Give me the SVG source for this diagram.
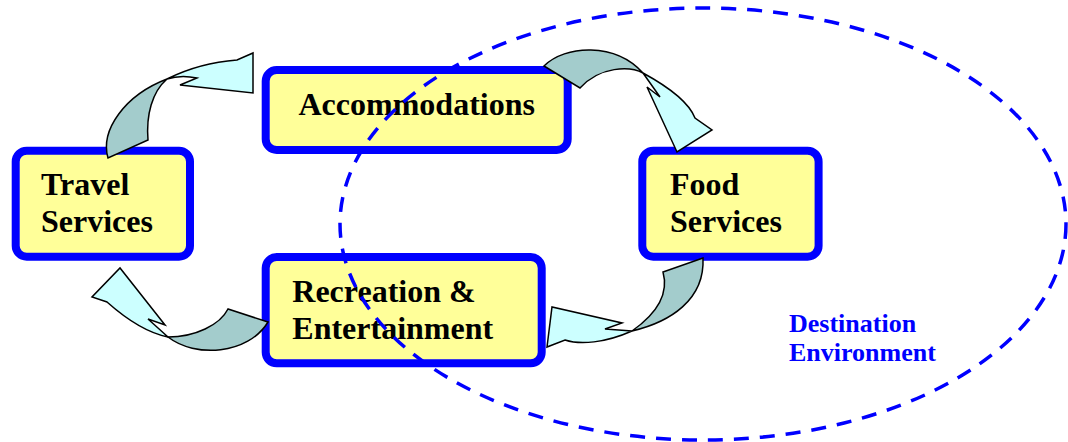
<svg xmlns="http://www.w3.org/2000/svg" width="1068" height="442" viewBox="0 0 1068 442">
  <style>
    .box { fill: #FFFF99; stroke: #0000FF; stroke-width: 8; }
    .label { font-family: "Liberation Serif", "Times New Roman", serif; font-weight: bold; font-size: 32px; fill: #000000; }
    .env { font-family: "Liberation Serif", "Times New Roman", serif; font-weight: bold; font-size: 26px; fill: #0000FF; }
    .back { fill: #A3CCCC; stroke: #000000; stroke-width: 1.5; stroke-linejoin: miter; }
    .front { fill: #CCFFFF; stroke: #000000; stroke-width: 1.5; stroke-linejoin: miter; }
    .region { fill: none; stroke: #0000FF; stroke-width: 3.5; stroke-dasharray: 15 11; }
  </style>
  <rect width="1068" height="442" fill="#FFFFFF"/>

  <!-- service nodes -->
  <g id="travel-services">
    <rect class="box" x="15.7" y="150.7" width="174.3" height="106" rx="11"/>
    <text class="label" x="41" y="195">Travel</text>
    <text class="label" x="41" y="231.7">Services</text>
  </g>
  <g id="accommodations">
    <rect class="box" x="265.7" y="70" width="302" height="80" rx="11"/>
    <text class="label" x="298.5" y="115">Accommodations</text>
  </g>
  <g id="food-services">
    <rect class="box" x="642.3" y="150.7" width="176.3" height="106" rx="11"/>
    <text class="label" x="670" y="195">Food</text>
    <text class="label" x="670" y="231.7">Services</text>
  </g>
  <g id="recreation-entertainment">
    <rect class="box" x="265.7" y="257" width="276" height="106.3" rx="11"/>
    <text class="label" x="292.3" y="302">Recreation &amp;</text>
    <text class="label" x="292.3" y="338.7">Entertainment</text>
  </g>

  <!-- curved ribbon arrows between the services -->
  <g id="connectors">
    <!-- travel -> accommodations -->
    <path class="back" d="M108,158 C100,130 125,95 167,79 C152,92 146,115 148,140 Z"/>
    <path class="front" d="M167,79 C185,70 210,62 237,60 L253,53 L253,93 L180,85 L197,78 C188,76 176,76 167,79 Z"/>
    <!-- accommodations -> food -->
    <path class="back" d="M544,66 C565,45 615,42 643,73 C630,66 600,66 580,88 Z"/>
    <path class="front" d="M643,73 C665,85 688,100 695,118 L712,130 L677,152 L647,87 L660,97 Z"/>
    <!-- food -> recreation -->
    <path class="back" d="M703,258 L663,272 C668,290 662,310 632,331 C670,322 705,300 703,258 Z"/>
    <path class="front" d="M632,331 L605,329 L622,323 L552,307 L547,347 L565,340 C580,345 605,343 632,331 Z"/>
    <!-- recreation -> travel -->
    <path class="back" d="M268,322 L228,309 C220,325 195,337 168,337 C195,358 248,355 268,322 Z"/>
    <path class="front" d="M168,337 L148,319 L165,325 L120,268 L92,297 L107,302 C125,318 148,333 168,337 Z"/>
  </g>

  <!-- destination environment boundary -->
  <g id="destination-environment">
    <ellipse class="region" cx="703" cy="224" rx="363" ry="216"/>
    <text class="env" x="789" y="331.7">Destination</text>
    <text class="env" x="789" y="360.7">Environment</text>
  </g>
</svg>
